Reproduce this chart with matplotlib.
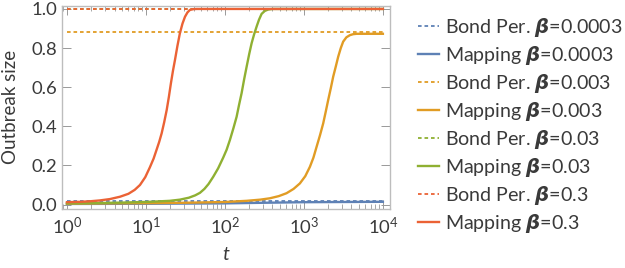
import matplotlib
matplotlib.use("Agg")
import matplotlib.pyplot as plt

plt.rcParams["font.family"] = ["Lato", "DejaVu Sans"]
plt.rcParams["mathtext.fontset"] = "custom"
plt.rcParams["mathtext.rm"] = "Lato"
plt.rcParams["mathtext.it"] = "Lato:italic"
plt.rcParams["mathtext.bf"] = "Lato:bold"
plt.rcParams["mathtext.bfit"] = "DejaVu Sans:bold:italic"

# colours (Mathematica default palette)
BLUE, ORANGE, GREEN, RED = "#5E81B5", "#E19C24", "#8FB032", "#EB6235"
TXT = "#3a3a3a"
FRAME = "#bdbdbd"

betas = ["0.0003", "0.003", "0.03", "0.3"]
colors = [BLUE, ORANGE, GREEN, RED]

# bond percolation outbreak sizes (constant in t)
bond_size = [0.016, 0.881, 1.0, 1.0]
t_range = [1, 10000]

# mapping curves
t_blue = [1, 10, 100, 300, 1000, 3000, 10000]
y_blue = [0.003, 0.004, 0.006, 0.009, 0.012, 0.013, 0.014]

t_orange = [1, 10, 30, 100, 188, 280, 371, 480, 603, 740, 889, 1040, 1191, 1320,
            1449, 1600, 1755, 1890, 2031, 2190, 2349, 2530, 2718, 2930, 3142,
            3450, 3820, 4200, 4645, 6000, 10000]
y_orange = [0.005, 0.007, 0.009, 0.013, 0.019, 0.025, 0.032, 0.043, 0.058, 0.080,
            0.108, 0.145, 0.193, 0.240, 0.296, 0.355, 0.415, 0.475, 0.535, 0.595,
            0.654, 0.705, 0.756, 0.800, 0.833, 0.855, 0.866, 0.871, 0.873, 0.873,
            0.873]

t_green = [1, 2.6, 5, 11.2, 20, 26.9, 35, 42, 48.3, 55, 62, 71.1, 82, 95.1, 105,
           115.6, 128, 140.6, 151, 162.5, 175, 188.3, 203, 217.8, 234, 251.9,
           270, 291.5, 320, 353, 400, 10000]
y_green = [0.006, 0.008, 0.010, 0.014, 0.019, 0.025, 0.035, 0.047, 0.060, 0.080,
           0.105, 0.142, 0.185, 0.240, 0.280, 0.330, 0.390, 0.449, 0.510, 0.569,
           0.640, 0.705, 0.770, 0.825, 0.870, 0.910, 0.945, 0.975, 0.990, 0.997,
           1.0, 1.0]

t_red = [1, 1.5, 2, 2.6, 3.5, 4.7, 6, 7.2, 8.4, 9.8, 11.2, 12.5, 13.6, 14.7,
         15.8, 17, 18.3, 19.5, 20.7, 22, 23.3, 25, 26.9, 29, 31.2, 33.5, 36, 40,
         44, 10000]
y_red = [0.012, 0.014, 0.017, 0.021, 0.028, 0.040, 0.055, 0.075, 0.100, 0.140,
         0.190, 0.235, 0.279, 0.320, 0.364, 0.420, 0.483, 0.550, 0.620, 0.685,
         0.739, 0.810, 0.876, 0.925, 0.960, 0.982, 0.995, 0.999, 1.0, 1.0]

mapping_t = [t_blue, t_orange, t_green, t_red]
mapping_y = [y_blue, y_orange, y_green, y_red]

fig = plt.figure(figsize=(6.25, 2.68), dpi=100)
ax = fig.add_axes([0.0992, 0.22, 0.5248, 0.759])

for b, c, bs, tm, ym in zip(betas, colors, bond_size, mapping_t, mapping_y):
    ax.plot(t_range, [bs, bs], color=c, lw=1.3, linestyle=(0, (2.0, 1.6)),
            label=r"Bond Per. $\mathbfit{\beta}$=" + b)
    ax.plot(tm, ym, color=c, lw=1.7, label=r"Mapping $\mathbfit{\beta}$=" + b)

ax.set_xscale("log")
ax.set_xlim(10 ** -0.063, 10 ** 4.09)
ax.set_ylim(-0.023, 1.017)
ax.set_yticks([0.0, 0.2, 0.4, 0.6, 0.8, 1.0])
ax.set_yticklabels(["0.0", "0.2", "0.4", "0.6", "0.8", "1.0"])
ax.set_xticks([1, 10, 100, 1000, 10000])

for s in ax.spines.values():
    s.set_color(FRAME)
    s.set_linewidth(1.0)
ax.tick_params(which="both", direction="in", top=True, right=True,
               color="#999999", labelcolor=TXT, labelsize=13.3)
ax.tick_params(which="major", length=6.5, width=0.7)
ax.tick_params(which="minor", length=3.3, width=0.6)
ax.tick_params(axis="x", pad=5)

ax.set_ylabel("Outbreak size", fontsize=13.5, color=TXT)
ax.set_xlabel("$t$", fontsize=14, color=TXT)
ax.yaxis.set_label_coords(-0.13, 0.5)
ax.xaxis.set_label_coords(0.5, -0.18)

leg = ax.legend(loc="upper left", bbox_to_anchor=(0.668, 0.942),
                bbox_transform=fig.transFigure, frameon=False, fontsize=14.1,
                handlelength=1.12, handletextpad=0.28, labelspacing=0.26,
                borderaxespad=0.0, borderpad=0.0)
for t in leg.get_texts():
    t.set_color(TXT)

fig.savefig("out.png", dpi=100)
